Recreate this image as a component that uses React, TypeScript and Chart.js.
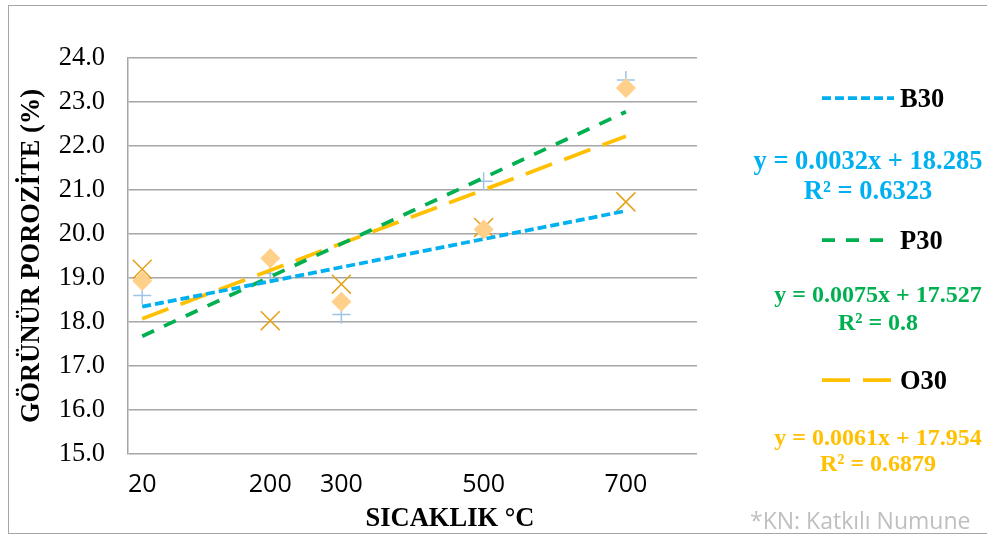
import React, { useEffect, useRef } from 'react';
import { Chart, registerables } from 'chart.js';

Chart.register(...registerables);

// ---------- data ----------
const temperatures = [20, 200, 300, 500, 700];
const xTickLabels = ['20', '200', '300', '500', '700'];
const seriesNames = ['B30', 'P30', 'O30'];
const b30Values = [19.2, 18.03, 18.86, 20.15, 20.73];
const p30Values = [18.6, 19.1, 18.17, 21.2, 23.5];
const o30Values = [18.93, 19.45, 18.46, 20.1, 23.32];
const trendSlopes = [0.0032, 0.0075, 0.0061];
const trendIntercepts = [18.285, 17.527, 17.954];
const rSquared = ['0.6323', '0.8', '0.6879'];
const yAxisTitle = 'GÖRÜNÜR POROZİTE (%)';
const xAxisTitle = 'SICAKLIK °C';
const noteText = '*KN: Katkılı Numune';

// ---------- styles ----------
const serif = "'Liberation Serif', 'Times New Roman', serif";
const sans = "'Open Sans', sans-serif";
const trendColors = ['#00b0f0', '#00b050', '#ffc000'];
const trendDashes = [[9, 4], [13, 11], [28, 13]];

const pts = (vals: number[]) => temperatures.map((x, i) => ({ x, y: vals[i] }));
const trendPts = (k: number) => {
  const xs = [Math.min(...temperatures), Math.max(...temperatures)];
  return xs.map((x) => ({ x, y: trendSlopes[k] * x + trendIntercepts[k] }));
};

function LegendSample({ k }: { k: number }) {
  return (
    <svg width={72} height={8} style={{ display: 'block' }}>
      <line
        x1={0}
        y1={4}
        x2={72}
        y2={4}
        stroke={trendColors[k]}
        strokeWidth={3.75}
        strokeDasharray={trendDashes[k].join(' ')}
      />
    </svg>
  );
}

export default function App() {
  const ref = useRef<HTMLCanvasElement | null>(null);

  useEffect(() => {
    if (!ref.current) return;
    const chart = new Chart(ref.current, {
      type: 'scatter',
      data: {
        datasets: [
          ...seriesNames.map((name, k) => ({
            type: 'line' as const,
            label: name,
            data: trendPts(k),
            borderColor: trendColors[k],
            borderWidth: 3.75,
            borderDash: trendDashes[k],
            pointRadius: 0,
            fill: false,
          })),
          {
            type: 'scatter' as const,
            label: 'O30 veri',
            data: pts(o30Values),
            pointStyle: 'rectRot',
            pointRadius: 10,
            backgroundColor: '#ffd08a',
            borderColor: '#ffd08a',
            borderWidth: 0,
          },
          {
            type: 'scatter' as const,
            label: 'P30 veri',
            data: pts(p30Values),
            pointStyle: 'cross',
            pointRadius: 9,
            borderColor: '#9dc3e6',
            borderWidth: 1.5,
          },
          {
            type: 'scatter' as const,
            label: 'B30 veri',
            data: pts(b30Values),
            pointStyle: 'crossRot',
            pointRadius: 13.4,
            borderColor: '#e6a11a',
            borderWidth: 1.5,
          },
        ],
      },
      options: {
        responsive: false,
        animation: false,
        layout: { padding: { left: 10, top: 58, right: 290, bottom: 0 } },
        plugins: { legend: { display: false }, tooltip: { enabled: false } },
        scales: {
          x: {
            type: 'linear',
            min: 0,
            max: 800,
            afterBuildTicks: (s: any) => {
              s.ticks = temperatures.map((v) => ({ value: v }));
            },
            ticks: {
              autoSkip: false,
              maxRotation: 0,
              padding: 8,
              color: '#000',
              font: { family: sans, size: 25 },
              callback: (v: any) => xTickLabels[temperatures.indexOf(Number(v))],
            },
            grid: { display: false },
            border: { display: false },
            afterFit: (s: any) => {
              s.height = 81;
            },
          },
          y: {
            min: 15,
            max: 24,
            ticks: {
              stepSize: 1,
              padding: 23,
              color: '#000',
              font: { family: serif, size: 26.5 },
              callback: (v: any) => Number(v).toFixed(1),
            },
            grid: { color: '#a6a6a6', lineWidth: 1.5, drawTicks: false },
            border: { display: true, color: '#a6a6a6', width: 1.5 },
            title: {
              display: true,
              text: yAxisTitle,
              color: '#000',
              font: { family: serif, size: 26.5, weight: 'bold' },
              padding: { top: 6, bottom: 0 },
            },
            afterFit: (s: any) => {
              s.width = 118;
            },
          },
        },
      },
    } as any);
    return () => chart.destroy();
  }, []);

  const boldSerif = (size: number, color: string): React.CSSProperties => ({
    position: 'absolute',
    fontFamily: serif,
    fontWeight: 'bold',
    fontSize: size,
    lineHeight: '30px',
    height: 30,
    color,
    whiteSpace: 'nowrap',
  });

  const legendY = [98, 240, 380];
  const eqY = [160, 294, 437];
  const r2Y = [190, 322, 463];
  const eqCx = [868, 878, 878];
  const eqSize = [26.5, 24, 24];

  return (
    <div style={{ position: 'fixed', left: 0, top: 0, width: 987, height: 535, overflow: 'hidden', background: '#fff' }}>
      <div
        style={{
          position: 'absolute',
          left: 8,
          top: 5,
          width: 1000,
          height: 527,
          border: '1px solid #a6a6a6',
        }}
      />
      <canvas ref={ref} width={987} height={535} style={{ position: 'absolute', left: 0, top: 0, width: 987, height: 535 }} />
      <div style={{ ...boldSerif(26.5, '#000'), left: 450, top: 502, transform: 'translateX(-50%)' }}>{xAxisTitle}</div>
      {seriesNames.map((name, k) => (
        <React.Fragment key={name}>
          <div style={{ position: 'absolute', left: 822, top: legendY[k] - 4 }}>
            <LegendSample k={k} />
          </div>
          <div style={{ ...boldSerif(26.5, '#000'), left: 900, top: legendY[k] - 15 }}>{name}</div>
          <div style={{ ...boldSerif(eqSize[k], trendColors[k]), left: eqCx[k], top: eqY[k] - 15, transform: 'translateX(-50%)' }}>
            {`y = ${trendSlopes[k]}x + ${trendIntercepts[k]}`}
          </div>
          <div style={{ ...boldSerif(eqSize[k], trendColors[k]), left: eqCx[k], top: r2Y[k] - 15, transform: 'translateX(-50%)' }}>
            {`R² = ${rSquared[k]}`}
          </div>
        </React.Fragment>
      ))}
      <div
        style={{
          position: 'absolute',
          left: 750,
          top: 505,
          fontFamily: sans,
          fontSize: 23,
          lineHeight: '30px',
          color: '#bfbfbf',
          whiteSpace: 'nowrap',
        }}
      >
        {noteText}
      </div>
    </div>
  );
}
